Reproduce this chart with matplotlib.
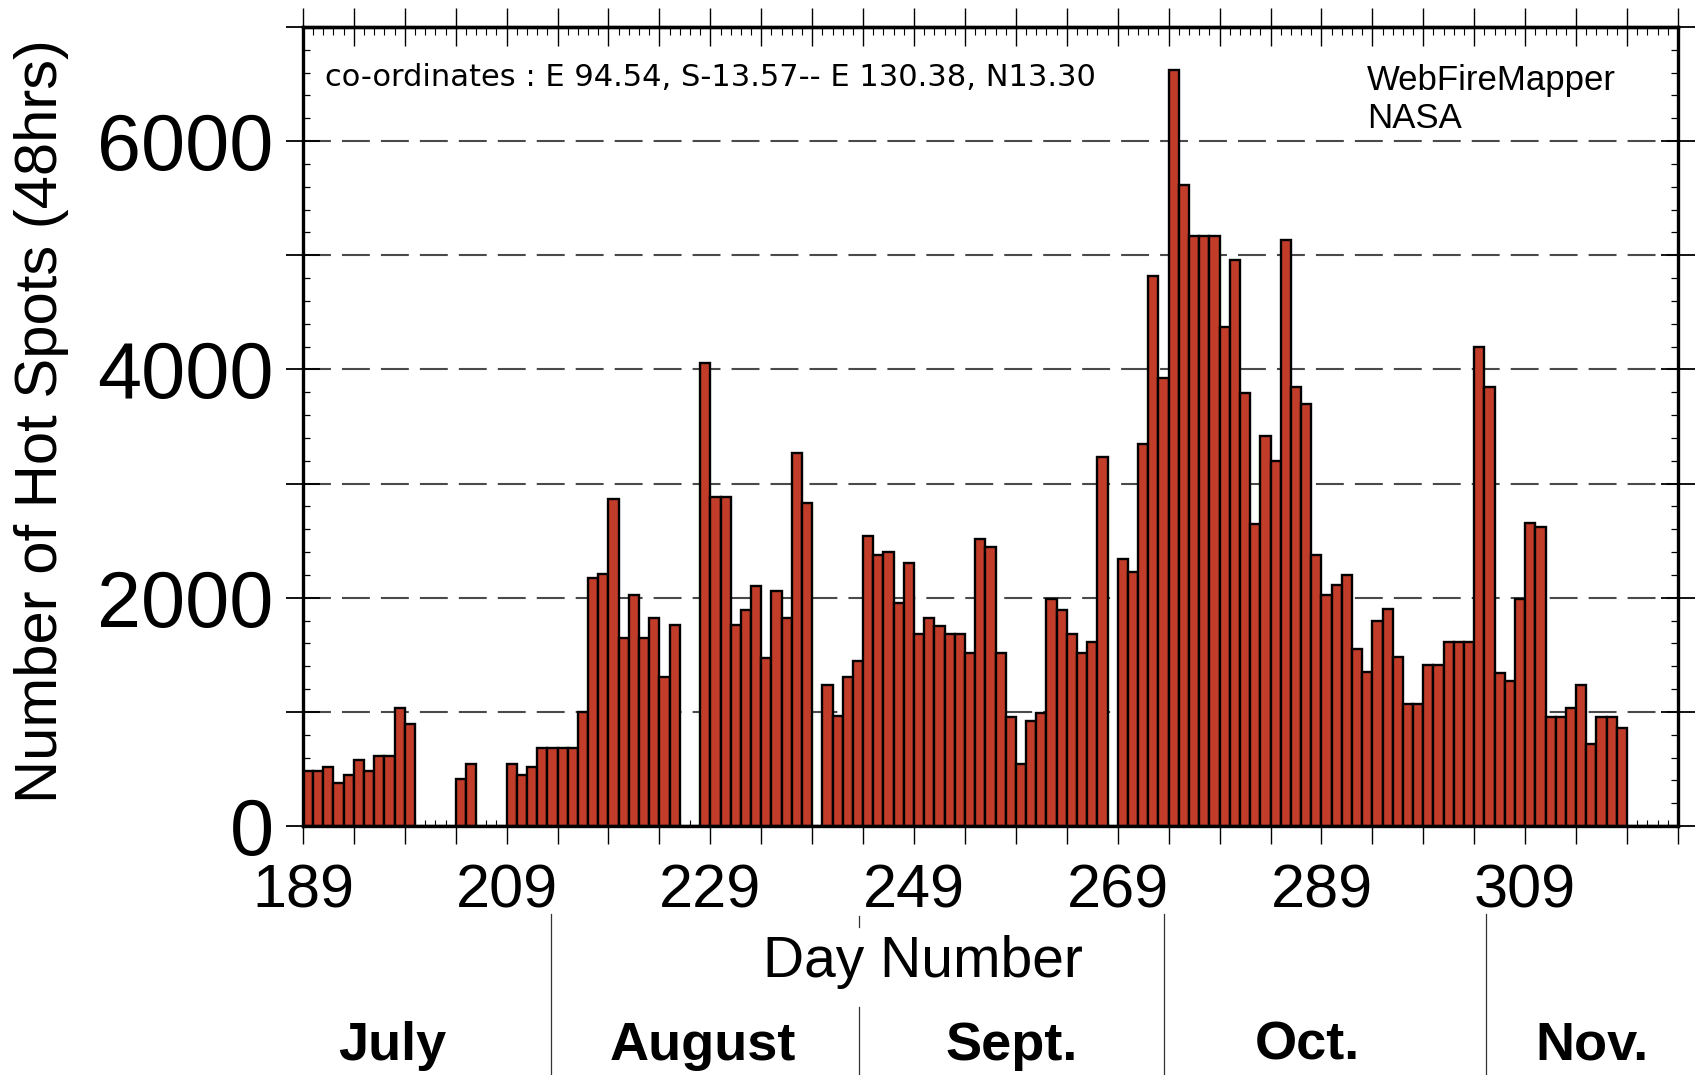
import matplotlib
matplotlib.use("Agg")
import matplotlib.pyplot as plt
import numpy as np
from matplotlib.ticker import FixedLocator, FuncFormatter, MultipleLocator
from matplotlib.transforms import blended_transform_factory

# ---------------- data ----------------
first_day = 189
hot_spots = [
    480, 480, 515, 378, 445, 581, 480, 616, 616, 1038,      # 189-198
    892, 0, 0, 0, 0, 416, 547, 0, 0, 0,                      # 199-208
    547, 445, 515, 683, 683, 683, 683, 997, 2172, 2209,      # 209-218
    2863, 1648, 2026, 1648, 1823, 1308, 1759, 0, 0, 4060,    # 219-228
    2884, 2884, 1759, 1890, 2099, 1474, 2061, 1823, 3270, 2826,  # 229-238
    0, 1235, 965, 1305, 1445, 2544, 2375, 2404, 1953, 2302,  # 239-248
    1686, 1823, 1753, 1686, 1686, 1512, 2515, 2442, 1512, 959,  # 249-258
    547, 922, 988, 1991, 1890, 1686, 1512, 1613, 3235, 0,    # 259-268
    2340, 2224, 3343, 4821, 3924, 6620, 5613, 5170, 5170, 5170,  # 269-278
    4370, 4961, 3790, 2645, 3416, 3198, 5130, 3850, 3700, 2375,  # 279-288
    2026, 2108, 2201, 1549, 1346, 1794, 1898, 1477, 1067, 1067,  # 289-298
    1410, 1410, 1613, 1613, 1613, 4200, 3850, 1337, 1270, 1991,  # 299-308
    2654, 2616, 959, 959, 1038, 1235, 718, 959, 959, 858,    # 309-318
    0, 0, 0, 0, 0,                                           # 319-323
]
days = list(range(first_day, first_day + len(hot_spots)))

xtick_labels = [189, 209, 229, 249, 269, 289, 309]
ytick_labels = [0, 2000, 4000, 6000]

months = ["July", "August", "Sept.", "Oct.", "Nov."]
month_label_x = [197.8, 228.3, 258.6, 287.6, 315.6]
month_bounds = [213.4, 243.6, 273.5, 305.2]

coord_text = "co-ordinates : E 94.54, S-13.57-- E 130.38, N13.30"
source_lines = ["WebFireMapper", "NASA"]

# ---------------- figure ----------------
plt.rcParams['font.family'] = ['Liberation Sans', 'DejaVu Sans']
fig = plt.figure(figsize=(16.99, 10.75), dpi=100)
ax = fig.add_axes([0.1783, 0.2316, 0.8093, 0.7433])

ax.bar(days, hot_spots, width=1.0, align='edge', color='#c23d29',
       edgecolor='black', linewidth=1.7, zorder=2)

ax.set_xlim(189, 324)
ax.set_ylim(0, 7000)
ax.set_axisbelow(True)

# y axis
ax.yaxis.set_major_locator(MultipleLocator(1000))
ax.yaxis.set_minor_locator(MultipleLocator(200))
ax.yaxis.set_major_formatter(FuncFormatter(
    lambda v, p: f"{int(v)}" if int(round(v)) in ytick_labels else ""))
ax.tick_params(axis='y', which='major', direction='inout', length=24, width=1.3,
               labelsize=57, pad=9, left=True, right=True)
ax.tick_params(axis='y', which='minor', direction='in', length=5, width=0.9,
               left=True, right=True)

# x axis (bottom)
ax.xaxis.set_major_locator(FixedLocator(np.arange(189, 325, 5)))
ax.xaxis.set_minor_locator(MultipleLocator(1))
ax.xaxis.set_major_formatter(FuncFormatter(
    lambda v, p: f"{int(round(v))}" if int(round(v)) in xtick_labels else ""))
ax.tick_params(axis='x', which='major', direction='out', length=13, width=1.0,
               pad=14, labelsize=44)
ax.tick_params(axis='x', which='minor', direction='in', length=4, width=0.8)

# top axis ticks
top = ax.secondary_xaxis('top')
top.xaxis.set_major_locator(FixedLocator(np.arange(189, 325, 5)))
top.xaxis.set_minor_locator(MultipleLocator(1))
top.tick_params(axis='x', which='major', direction='inout', length=28, width=1.0,
                labeltop=False)
top.tick_params(axis='x', which='minor', direction='in', length=6, width=0.8)
top.spines['top'].set_linewidth(2.4)

# grid
ax.yaxis.grid(True, which='major', linestyle=(0, (13.4, 5.3)), color='#4a4a4a',
              linewidth=1.5)

for s in ax.spines.values():
    s.set_linewidth(2.4)

ax.set_ylabel("Number of Hot Spots (48hrs)", fontsize=43)
ax.yaxis.set_label_coords(-0.17, 0.507)

# annotation texts
ax.text(0.016, 0.926, coord_text, transform=ax.transAxes, fontsize=22,
        family=['DejaVu Sans'], va='baseline', ha='left')
ax.text(0.774, 0.921, source_lines[0], transform=ax.transAxes, fontsize=25,
        va='baseline', ha='left')
ax.text(0.774, 0.8736, source_lines[1], transform=ax.transAxes, fontsize=25,
        va='baseline', ha='left')

# Day number label and months below
bt = blended_transform_factory(ax.transData, fig.transFigure)
ax.text(249.9, 0.105, "Day Number", transform=bt, fontsize=41,
        ha='center', va='center')
for name, xm in zip(months, month_label_x):
    ax.text(xm, 0.027, name, transform=bt, fontsize=39, fontweight='bold',
            ha='center', va='center')

for i, xb in enumerate(month_bounds):
    if i == 1:
        ax.plot([xb, xb], [0.138, 0.148], transform=bt, color='#333333',
                lw=0.9, clip_on=False)
        ax.plot([xb, xb], [0.0, 0.063], transform=bt, color='#333333',
                lw=0.9, clip_on=False)
    else:
        ax.plot([xb, xb], [0.0, 0.150], transform=bt, color='#333333',
                lw=0.9, clip_on=False)

fig.savefig("out.png", dpi=100)
